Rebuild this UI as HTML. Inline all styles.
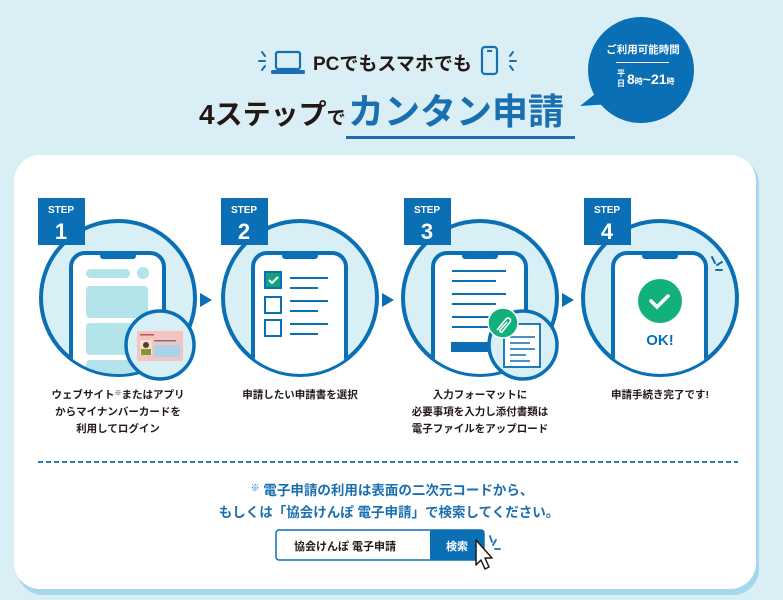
<!DOCTYPE html>
<html><head><meta charset="utf-8"><style>
html,body{margin:0;padding:0;background:#d9eff5;}
body{width:783px;height:595px;overflow:hidden;font-family:"Liberation Sans","Noto Sans CJK JP",sans-serif;}
</style></head><body>
<svg width="783" height="595" viewBox="0 0 783 595" xmlns="http://www.w3.org/2000/svg" font-family="'Liberation Sans','Noto Sans CJK JP',sans-serif">
<defs>
<clipPath id="c1"><circle cx="118" cy="298" r="76"/></clipPath>
<clipPath id="c2"><circle cx="300" cy="298" r="76"/></clipPath>
<clipPath id="c3"><circle cx="480" cy="298" r="76"/></clipPath>
<clipPath id="c4"><circle cx="660" cy="298" r="76"/></clipPath>
</defs>
<rect width="783" height="595" fill="#d9eff5"/>
<rect x="17" y="158" width="742" height="437" rx="26" fill="#a6d7ea"/>
<rect x="14" y="155" width="742" height="434" rx="26" fill="#fff"/>

<g stroke="#1a6fb0" stroke-width="2" stroke-linecap="round">
<line x1="262" y1="52" x2="265" y2="56"/><line x1="259" y1="61" x2="265" y2="61"/><line x1="262" y1="70" x2="265" y2="66"/>
<line x1="513" y1="52" x2="510" y2="56"/><line x1="516" y1="61" x2="510" y2="61"/><line x1="513" y1="70" x2="510" y2="66"/>
</g>
<rect x="276" y="52" width="24" height="17" rx="2" fill="none" stroke="#1a6fb0" stroke-width="2.2"/>
<rect x="271" y="70" width="34" height="4" rx="1.5" fill="#1a6fb0"/>
<rect x="482" y="47" width="15" height="27" rx="3" fill="none" stroke="#1a6fb0" stroke-width="2.2"/>
<rect x="487" y="50" width="5" height="2" fill="#1a6fb0"/>
<text x="313" y="70" font-size="19" font-weight="bold" fill="#231815">PCでもスマホでも</text>
<text x="199" y="124" font-size="28" font-weight="bold" fill="#231815">4ステップ<tspan font-size="19">で</tspan></text>
<text x="348" y="124" font-size="36" font-weight="bold" fill="#1a6fb0">カンタン申請</text>
<rect x="346" y="136" width="229" height="3" fill="#1a6fb0"/>
<path d="M600 90 L580 106 L612 104 Z" fill="#0b6fb5"/>
<circle cx="641" cy="70" r="53" fill="#0b6fb5"/>
<text x="643" y="53" font-size="10.5" font-weight="bold" fill="#fff" text-anchor="middle">ご利用可能時間</text>
<rect x="616" y="62" width="53" height="1" fill="#fff"/>
<text x="617" y="76" font-size="8" font-weight="bold" fill="#fff">平</text>
<text x="617" y="86" font-size="8" font-weight="bold" fill="#fff">日</text>
<text x="627" y="84" font-size="14" font-weight="bold" fill="#fff">8<tspan font-size="8">時</tspan>~21<tspan font-size="8">時</tspan></text>

<g fill="#d8eff5" stroke="#0b6fb5" stroke-width="4">
<circle cx="118" cy="298" r="77"/><circle cx="300" cy="298" r="77"/><circle cx="480" cy="298" r="77"/><circle cx="660" cy="298" r="77"/>
</g>
<g stroke="#0b6fb5" stroke-width="4" fill="#fff">
<rect clip-path="url(#c1)" x="71" y="253" width="93" height="150" rx="14"/>
<rect clip-path="url(#c2)" x="253" y="253" width="93" height="150" rx="14"/>
<rect clip-path="url(#c3)" x="433" y="253" width="93" height="150" rx="14"/>
<rect clip-path="url(#c4)" x="613" y="253" width="93" height="150" rx="14"/>
</g>
<g fill="#0b6fb5">
<rect x="100" y="253" width="36" height="6" rx="3"/><rect x="282" y="253" width="36" height="6" rx="3"/>
<rect x="462" y="253" width="36" height="6" rx="3"/><rect x="642" y="253" width="36" height="6" rx="3"/>
</g>
<g fill="#b3e4ea" clip-path="url(#c1)">
<rect x="86" y="269" width="44" height="9" rx="4.5"/><circle cx="143" cy="273" r="6"/>
<rect x="86" y="286" width="62" height="32" rx="4"/><rect x="86" y="323" width="62" height="32" rx="4"/><rect x="86" y="360" width="62" height="32" rx="4"/>
</g>
<circle cx="160" cy="345" r="34" fill="#d8eff5" stroke="#0b6fb5" stroke-width="3.5"/>
<rect x="137" y="331" width="46" height="30" rx="2" fill="#f6c4c0"/>
<rect x="140" y="340" width="12" height="15" fill="#f3e2d0"/>
<circle cx="146" cy="345" r="3" fill="#5a3b2a"/><rect x="141" y="349" width="10" height="6" fill="#7c9a3a"/>
<rect x="154" y="345" width="26" height="12" fill="#a9d3e8"/>
<rect x="140" y="334" width="14" height="1.5" fill="#b55"/><rect x="154" y="340" width="22" height="1.5" fill="#777"/>
<rect x="265" y="272" width="16" height="16" fill="#13a37a" stroke="#0b6fb5" stroke-width="2"/>
<path d="M269 280 l3 3 l6 -6" stroke="#fff" stroke-width="2" fill="none"/>
<rect x="265" y="297" width="16" height="16" fill="#fff" stroke="#0b6fb5" stroke-width="2"/>
<rect x="265" y="320" width="16" height="16" fill="#fff" stroke="#0b6fb5" stroke-width="2"/>
<g stroke="#0b6fb5" stroke-width="2">
<line x1="290" y1="278" x2="328" y2="278"/><line x1="290" y1="288" x2="318" y2="288"/>
<line x1="290" y1="301" x2="328" y2="301"/><line x1="290" y1="311" x2="318" y2="311"/>
<line x1="290" y1="324" x2="328" y2="324"/><line x1="290" y1="334" x2="318" y2="334"/>
<line x1="452" y1="271" x2="506" y2="271"/><line x1="452" y1="281" x2="496" y2="281"/>
<line x1="452" y1="294" x2="506" y2="294"/><line x1="452" y1="304" x2="496" y2="304"/>
<line x1="452" y1="317" x2="506" y2="317"/><line x1="452" y1="327" x2="496" y2="327"/>
</g>
<rect x="451" y="342" width="55" height="10" fill="#0b6fb5"/>
<circle cx="523" cy="345" r="34" fill="#d8eff5" stroke="#0b6fb5" stroke-width="3.5"/>
<rect x="504" y="324" width="36" height="43" fill="#fff" stroke="#0b6fb5" stroke-width="1.8"/>
<g stroke="#0b6fb5" stroke-width="1.5"><line x1="510" y1="337" x2="535" y2="337"/><line x1="510" y1="343" x2="530" y2="343"/><line x1="510" y1="349" x2="535" y2="349"/><line x1="510" y1="355" x2="526" y2="355"/><line x1="510" y1="361" x2="530" y2="361"/></g>
<circle cx="503" cy="323" r="15" fill="#12b07c" stroke="#fff" stroke-width="1.5"/>
<path d="M497 330 l9 -11 a2.5 2.5 0 0 1 4 3 l-8 10 a1.5 1.5 0 0 1 -2 -2 l7 -8" stroke="#fff" stroke-width="1.6" fill="none"/>
<circle cx="660" cy="301" r="22" fill="#12b07c"/>
<path d="M651 301 l6 6 l11 -11" stroke="#fff" stroke-width="3.5" fill="none" stroke-linecap="round"/>
<text x="660" y="345" font-size="15" font-weight="bold" fill="#0b6fb5" text-anchor="middle">OK!</text>
<g stroke="#0b6fb5" stroke-width="2" stroke-linecap="round"><line x1="712" y1="257" x2="715" y2="263"/><line x1="717" y1="265" x2="722" y2="262"/><line x1="716" y1="270" x2="722" y2="270"/></g>
<g fill="#0b6fb5"><rect x="38" y="198" width="47" height="47"/><rect x="221" y="198" width="47" height="47"/><rect x="404" y="198" width="47" height="47"/><rect x="584" y="198" width="47" height="47"/></g>
<g fill="#fff" font-weight="bold" text-anchor="middle">
<text x="61" y="213" font-size="10">STEP</text><text x="61" y="239" font-size="22">1</text>
<text x="244" y="213" font-size="10">STEP</text><text x="244" y="239" font-size="22">2</text>
<text x="427" y="213" font-size="10">STEP</text><text x="427" y="239" font-size="22">3</text>
<text x="607" y="213" font-size="10">STEP</text><text x="607" y="239" font-size="22">4</text>
</g>
<g fill="#0b6fb5"><path d="M200 293 l12 7 l-12 7z"/><path d="M382 293 l12 7 l-12 7z"/><path d="M562 293 l12 7 l-12 7z"/></g>
<g font-size="10.5" font-weight="bold" fill="#231815" text-anchor="middle">
<text x="118" y="398">ウェブサイト<tspan font-size="7" dy="-3">※</tspan><tspan dy="3">またはアプリ</tspan></text>
<text x="118" y="415">からマイナンバーカードを</text>
<text x="118" y="432">利用してログイン</text>
<text x="300" y="398">申請したい申請書を選択</text>
<text x="480" y="398">入力フォーマットに</text>
<text x="480" y="415">必要事項を入力し添付書類は</text>
<text x="480" y="432">電子ファイルをアップロード</text>
<text x="660" y="398">申請手続き完了です!</text>
</g>
<line x1="38" y1="462" x2="738" y2="462" stroke="#1a7ec0" stroke-width="2" stroke-dasharray="5,3"/>
<g font-size="13.5" font-weight="bold" fill="#1a6fb0" text-anchor="middle">
<text x="392" y="495"><tspan font-size="9" dy="-4">※</tspan><tspan dy="4"> 電子申請の利用は表面の二次元コードから、</tspan></text>
<text x="389" y="517">もしくは「協会けんぽ 電子申請」で検索してください。</text>
</g>
<rect x="276" y="530" width="208" height="30" rx="3" fill="#fff" stroke="#0b6fb5" stroke-width="1.5"/>
<rect x="430" y="530" width="54" height="30" rx="2" fill="#0b6fb5"/>
<text x="294" y="550" font-size="11" font-weight="bold" fill="#231815">協会けんぽ  電子申請</text>
<text x="457" y="550" font-size="11" font-weight="bold" fill="#fff" text-anchor="middle">検索</text>
<path d="M476 540 l0 25 l5 -5 l4 9 l4 -2 l-4 -9 l7 0 z" fill="#fff" stroke="#231815" stroke-width="1.5" stroke-linejoin="round"/>
<g stroke="#1a6fb0" stroke-width="1.8" stroke-linecap="round"><line x1="490" y1="536" x2="492" y2="542"/><line x1="496" y1="540" x2="493" y2="545"/><line x1="495" y1="549" x2="500" y2="549"/></g>
</svg>
</body></html>
